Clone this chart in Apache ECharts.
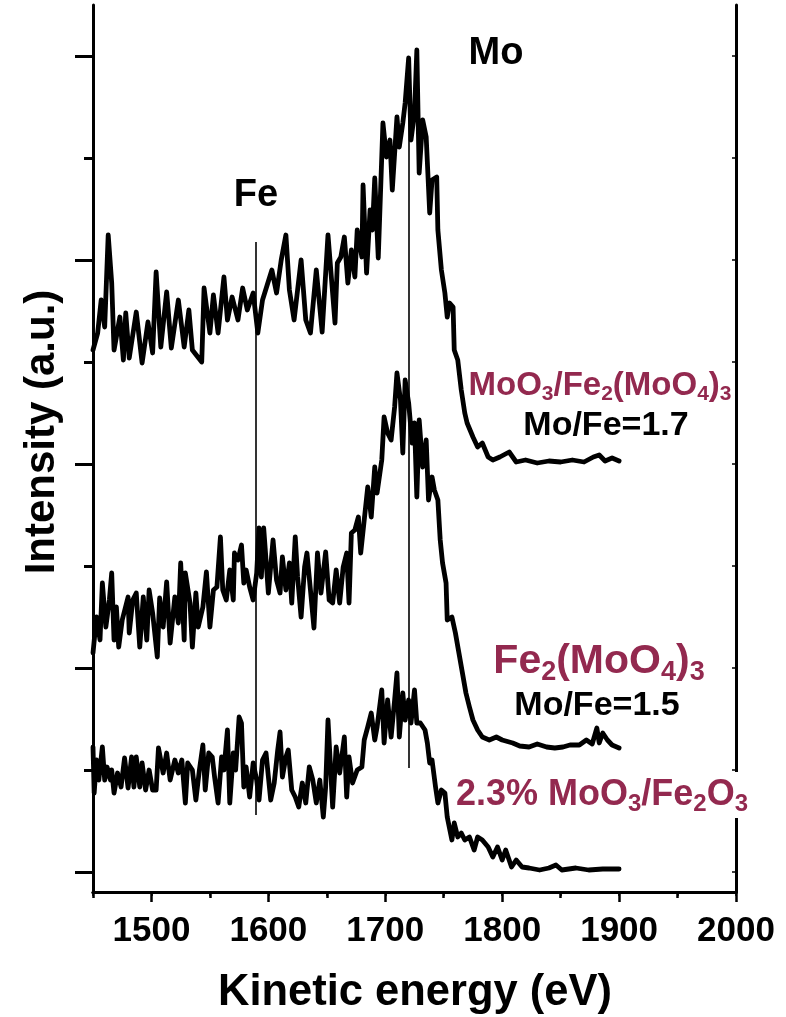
<!DOCTYPE html>
<html>
<head>
<meta charset="utf-8">
<script src="https://cdn.jsdelivr.net/npm/echarts@6/dist/echarts.min.js"></script>
<style>html,body{margin:0;padding:0;background:#fff}#c{width:786px;height:1017px}</style>
</head>
<body>
<div id="c"></div>
<script>
// ---- data (kinetic energy in eV, intensity in arbitrary units) ----
const xTickLabels = [1500, 1600, 1700, 1800, 1900, 2000];
const xMinorTicks = [1450, 1550, 1650, 1750, 1850, 1950];
const yMajorTicks = [20, 224, 428, 632, 836];
const yMinorTicks = [122, 326, 530, 734];

const spectrumMoO3FeMo = [
[1450,542],[1454,559],[1457,592],[1460,565],[1463,657],[1466,609],[1468,542],[1473,575],[1476,532],[1478,579],
[1481,534],[1487,580],[1492,529],[1497,570],[1501,539],[1504,620],[1508,545],[1513,600],[1517,544],[1523,592],
[1528,545],[1532,582],[1535,542],[1543,530],[1545,604],[1550,559],[1553,597],[1557,559],[1562,615],[1565,572],
[1569,595],[1574,572],[1578,604],[1582,582],[1587,599],[1591,559],[1595,592],[1603,622],[1607,599],[1611,632],
[1615,657],[1618,602],[1622,572],[1628,632],[1632,572],[1636,559],[1641,622],[1646,560],[1651,657],[1657,569],
[1659,629],[1662,635],[1665,655],[1668,609],[1671,642],[1674,615],[1676,662],[1680,635],[1681,707],[1684,619],
[1687,682],[1689,662],[1691,714],[1694,634],[1698,769],[1701,735],[1704,752],[1706,702],[1710,775],[1712,745],
[1715,769],[1717,789],[1720,834],[1722,752],[1725,779],[1727,842],[1729,719],[1732,772],[1735,755],[1738,679],
[1740,712],[1744,715],[1745,662],[1748,622],[1751,599],[1753,575],[1755,589],[1758,585],[1759,542],[1762,532],
[1765,502],[1768,479],[1770,469],[1775,455],[1779,445],[1783,449],[1788,435],[1792,432],[1798,435],[1806,440],
[1812,430],[1820,432],[1830,429],[1840,431],[1850,430],[1860,432],[1870,430],[1878,435],[1883,437],[1888,431],
[1894,434],[1900,431]
];

const spectrumFeMo = [
[1450,239],[1453,275],[1456,252],[1458,309],[1461,265],[1464,292],[1466,319],[1468,252],[1470,285],[1472,245],
[1475,272],[1480,295],[1481,259],[1484,292],[1487,299],[1490,245],[1493,295],[1496,252],[1498,302],[1501,279],
[1505,235],[1507,294],[1510,265],[1513,310],[1516,249],[1520,295],[1523,269],[1525,329],[1528,252],[1529,319],
[1533,289],[1535,245],[1538,299],[1540,265],[1544,285],[1547,320],[1550,265],[1553,302],[1556,305],[1559,355],
[1561,302],[1564,292],[1567,322],[1570,292],[1571,339],[1574,332],[1577,347],[1579,309],[1581,322],[1584,305],
[1587,292],[1590,319],[1592,364],[1594,315],[1596,364],[1598,332],[1600,299],[1604,352],[1607,312],[1610,299],
[1612,335],[1615,302],[1618,329],[1620,289],[1623,355],[1625,315],[1628,275],[1631,325],[1633,339],[1636,302],
[1639,264],[1642,339],[1645,299],[1649,340],[1652,292],[1655,289],[1658,322],[1661,289],[1664,325],[1667,339],
[1669,289],[1671,359],[1674,362],[1677,375],[1679,339],[1682,372],[1685,405],[1688,375],[1691,425],[1693,399],
[1697,432],[1699,475],[1702,459],[1705,452],[1708,485],[1710,519],[1713,492],[1715,439],[1717,512],[1720,489],
[1723,449],[1725,469],[1727,395],[1729,472],[1732,425],[1735,452],[1737,392],[1740,415],[1742,402],[1745,392],
[1747,352],[1749,329],[1752,309],[1753,272],[1757,275],[1760,259],[1763,239],[1766,219],[1769,199],[1772,185],
[1775,172],[1779,162],[1783,155],[1789,152],[1795,155],[1800,152],[1809,149],[1815,146],[1823,145],[1830,148],
[1838,145],[1845,144],[1852,145],[1858,147],[1866,147],[1872,152],[1877,148],[1881,164],[1883,149],[1886,159],
[1890,152],[1894,147],[1900,144]
];

const spectrumMoO3FeO = [
[1450,145],[1451,99],[1453,132],[1455,112],[1458,145],[1460,112],[1462,125],[1465,112],[1466,122],[1468,99],
[1471,119],[1474,105],[1477,134],[1480,104],[1483,135],[1485,105],[1487,135],[1490,105],[1492,129],[1495,102],
[1498,122],[1501,102],[1504,102],[1506,144],[1510,119],[1513,139],[1516,112],[1520,132],[1523,119],[1526,132],
[1529,89],[1531,129],[1535,122],[1538,92],[1541,122],[1544,147],[1546,102],[1549,139],[1552,135],[1554,115],
[1557,89],[1560,135],[1562,122],[1565,162],[1567,89],[1570,139],[1572,122],[1575,175],[1577,169],[1579,105],
[1581,125],[1584,95],[1587,129],[1590,112],[1592,92],[1595,132],[1598,139],[1602,92],[1605,109],[1608,142],
[1610,160],[1612,115],[1615,135],[1617,142],[1620,102],[1623,95],[1626,85],[1629,109],[1632,89],[1635,125],
[1638,112],[1641,89],[1644,112],[1647,75],[1649,105],[1651,172],[1655,85],[1658,145],[1661,119],[1665,155],
[1667,95],[1669,135],[1672,109],[1676,122],[1680,125],[1682,152],[1685,165],[1688,179],[1691,152],[1693,165],
[1697,202],[1699,149],[1702,192],[1705,155],[1708,192],[1710,219],[1712,155],[1715,199],[1717,172],[1720,192],
[1722,169],[1725,202],[1727,169],[1730,169],[1734,162],[1736,149],[1738,129],[1740,132],[1743,105],[1745,89],
[1748,102],[1751,99],[1753,75],[1757,52],[1759,69],[1762,55],[1765,59],[1768,52],[1772,55],[1776,42],
[1779,55],[1783,52],[1788,45],[1792,35],[1796,45],[1800,32],[1803,42],[1808,25],[1812,32],[1817,25],
[1823,24],[1832,22],[1840,24],[1846,27],[1851,22],[1863,24],[1874,22],[1886,23],[1900,23]
];

// reference lines: [energy, from intensity, to intensity]
const feLine = [1589, 77, 650];
const moLine = [1720, 124, 777];

// ---- chart ----
const crimson = '#93294F';
const FONT = 'Liberation Sans, Arial, sans-serif';
const chart = echarts.init(document.getElementById('c'), null, {renderer: 'canvas'});

function traceSeries(data, extra) {
  return Object.assign({
    type: 'line', data: data, showSymbol: false, symbol: 'none',
    xAxisIndex: 0, yAxisIndex: 0,
    lineStyle: {color: '#000', width: 4.8, join: 'round', cap: 'round'},
    itemStyle: {color: '#000'}, silent: true, z: 3
  }, extra || {});
}

const option = {
  animation: false,
  backgroundColor: '#fff',
  grid: {left: 93, right: 50, top: 5, bottom: 125},
  xAxis: [
    {type: 'value', position: 'bottom', min: 1450, max: 2000,
     axisLine: {show: true, lineStyle: {color: '#000', width: 3}},
     axisTick: {show: true, length: 10, lineStyle: {color: '#000', width: 2.5}, customValues: xTickLabels},
     axisLabel: {show: true, customValues: xTickLabels, margin: 22, color: '#000',
       formatter: function (v) { return String(v); },
       fontFamily: FONT, fontWeight: 'bold', fontSize: 35},
     splitLine: {show: false}},
    {type: 'value', position: 'bottom', min: 1450, max: 2000,
     axisLine: {show: false},
     axisTick: {show: true, length: 6, lineStyle: {color: '#000', width: 2.5}, customValues: xMinorTicks},
     axisLabel: {show: false}, splitLine: {show: false}},
    {type: 'value', position: 'top', min: 1450, max: 2000, interval: 50,
     axisLine: {show: true, lineStyle: {color: '#000', width: 3}},
     axisTick: {show: true, inside: true, length: 4, lineStyle: {color: '#000', width: 1.5}},
     axisLabel: {show: false}, splitLine: {show: false}}
  ],
  yAxis: [
    {type: 'value', position: 'left', min: 0, max: 887,
     axisLine: {show: true, lineStyle: {color: '#000', width: 3}},
     axisTick: {show: true, length: 18, lineStyle: {color: '#000', width: 3}, customValues: yMajorTicks},
     axisLabel: {show: false}, splitLine: {show: false}},
    {type: 'value', position: 'left', min: 0, max: 887,
     axisLine: {show: false},
     axisTick: {show: true, length: 9, lineStyle: {color: '#000', width: 3}, customValues: yMinorTicks},
     axisLabel: {show: false}, splitLine: {show: false}},
    {type: 'value', position: 'right', min: 0, max: 887,
     axisLine: {show: true, lineStyle: {color: '#000', width: 3}},
     axisTick: {show: true, inside: true, length: 4, lineStyle: {color: '#000', width: 1.5},
       customValues: yMajorTicks.concat(yMinorTicks)},
     axisLabel: {show: false}, splitLine: {show: false}}
  ],
  series: [
    traceSeries(spectrumMoO3FeMo),
    traceSeries(spectrumFeMo),
    traceSeries(spectrumMoO3FeO, {
      markLine: {
        silent: true, symbol: 'none', animation: false,
        label: {show: false},
        lineStyle: {color: '#000', width: 1.6, type: 'solid'},
        data: [
          [{coord: [feLine[0], feLine[1]]}, {coord: [feLine[0], feLine[2]]}],
          [{coord: [moLine[0], moLine[1]]}, {coord: [moLine[0], moLine[2]]}]
        ]
      }
    })
  ],
  graphic: [
    {type: 'text', x: 496, y: 54, z: 100, style: {text: 'Mo', fill: '#000', fontFamily: FONT, fontWeight: 'bold', fontSize: 38,
      align: 'center', verticalAlign: 'middle', textAlign: 'center', textVerticalAlign: 'middle'}},
    {type: 'text', x: 256, y: 196, z: 100, style: {text: 'Fe', fill: '#000', fontFamily: FONT, fontWeight: 'bold', fontSize: 38,
      align: 'center', verticalAlign: 'middle', textAlign: 'center', textVerticalAlign: 'middle'}},
    {type: 'text', x: 415, y: 993, z: 100, style: {text: 'Kinetic energy (eV)', fill: '#000', fontFamily: FONT, fontWeight: 'bold', fontSize: 43.5,
      align: 'center', verticalAlign: 'middle', textAlign: 'center', textVerticalAlign: 'middle'}},
    {type: 'text', x: 42, y: 432, rotation: Math.PI / 2, z: 100, style: {text: 'Intensity (a.u.)', fill: '#000', fontFamily: FONT, fontWeight: 'bold', fontSize: 42,
      align: 'center', verticalAlign: 'middle', textAlign: 'center', textVerticalAlign: 'middle'}},
    {type: 'text', x: 600, y: 386, z: 100, style: {
      text: '{a|MoO}{s|3}{a|/Fe}{s|2}{a|(MoO}{s|4}{a|)}{s|3}',
      align: 'center', verticalAlign: 'middle', textAlign: 'center', textVerticalAlign: 'middle',
      rich: {
        a: {fill: crimson, fontFamily: FONT, fontWeight: 'bold', fontSize: 33, lineHeight: 38},
        s: {fill: crimson, fontFamily: FONT, fontWeight: 'bold', fontSize: 21, lineHeight: 21, verticalAlign: 'bottom'}
      }}},
    {type: 'text', x: 606, y: 426, z: 100, style: {text: 'Mo/Fe=1.7', fill: '#000', fontFamily: FONT, fontWeight: 'bold', fontSize: 34,
      align: 'center', verticalAlign: 'middle', textAlign: 'center', textVerticalAlign: 'middle'}},
    {type: 'text', x: 599, y: 662, z: 100, style: {
      text: '{a|Fe}{s|2}{a|(MoO}{s|4}{a|)}{s|3}',
      align: 'center', verticalAlign: 'middle', textAlign: 'center', textVerticalAlign: 'middle',
      rich: {
        a: {fill: crimson, fontFamily: FONT, fontWeight: 'bold', fontSize: 41, lineHeight: 48},
        s: {fill: crimson, fontFamily: FONT, fontWeight: 'bold', fontSize: 27, lineHeight: 27, verticalAlign: 'bottom'}
      }}},
    {type: 'text', x: 597, y: 706, z: 100, style: {text: 'Mo/Fe=1.5', fill: '#000', fontFamily: FONT, fontWeight: 'bold', fontSize: 34,
      align: 'center', verticalAlign: 'middle', textAlign: 'center', textVerticalAlign: 'middle'}},
    {type: 'text', x: 602, y: 795, z: 100, style: {
      text: '{a|2.3% MoO}{s|3}{a|/Fe}{s|2}{a|O}{s|3}',
      align: 'center', verticalAlign: 'middle', textAlign: 'center', textVerticalAlign: 'middle',
      backgroundColor: '#fff', padding: [2, 2, 2, 2],
      rich: {
        a: {fill: crimson, fontFamily: FONT, fontWeight: 'bold', fontSize: 36, lineHeight: 42},
        s: {fill: crimson, fontFamily: FONT, fontWeight: 'bold', fontSize: 24, lineHeight: 24, verticalAlign: 'bottom'}
      }}}
  ]
};
chart.setOption(option);
</script>
</body>
</html>
